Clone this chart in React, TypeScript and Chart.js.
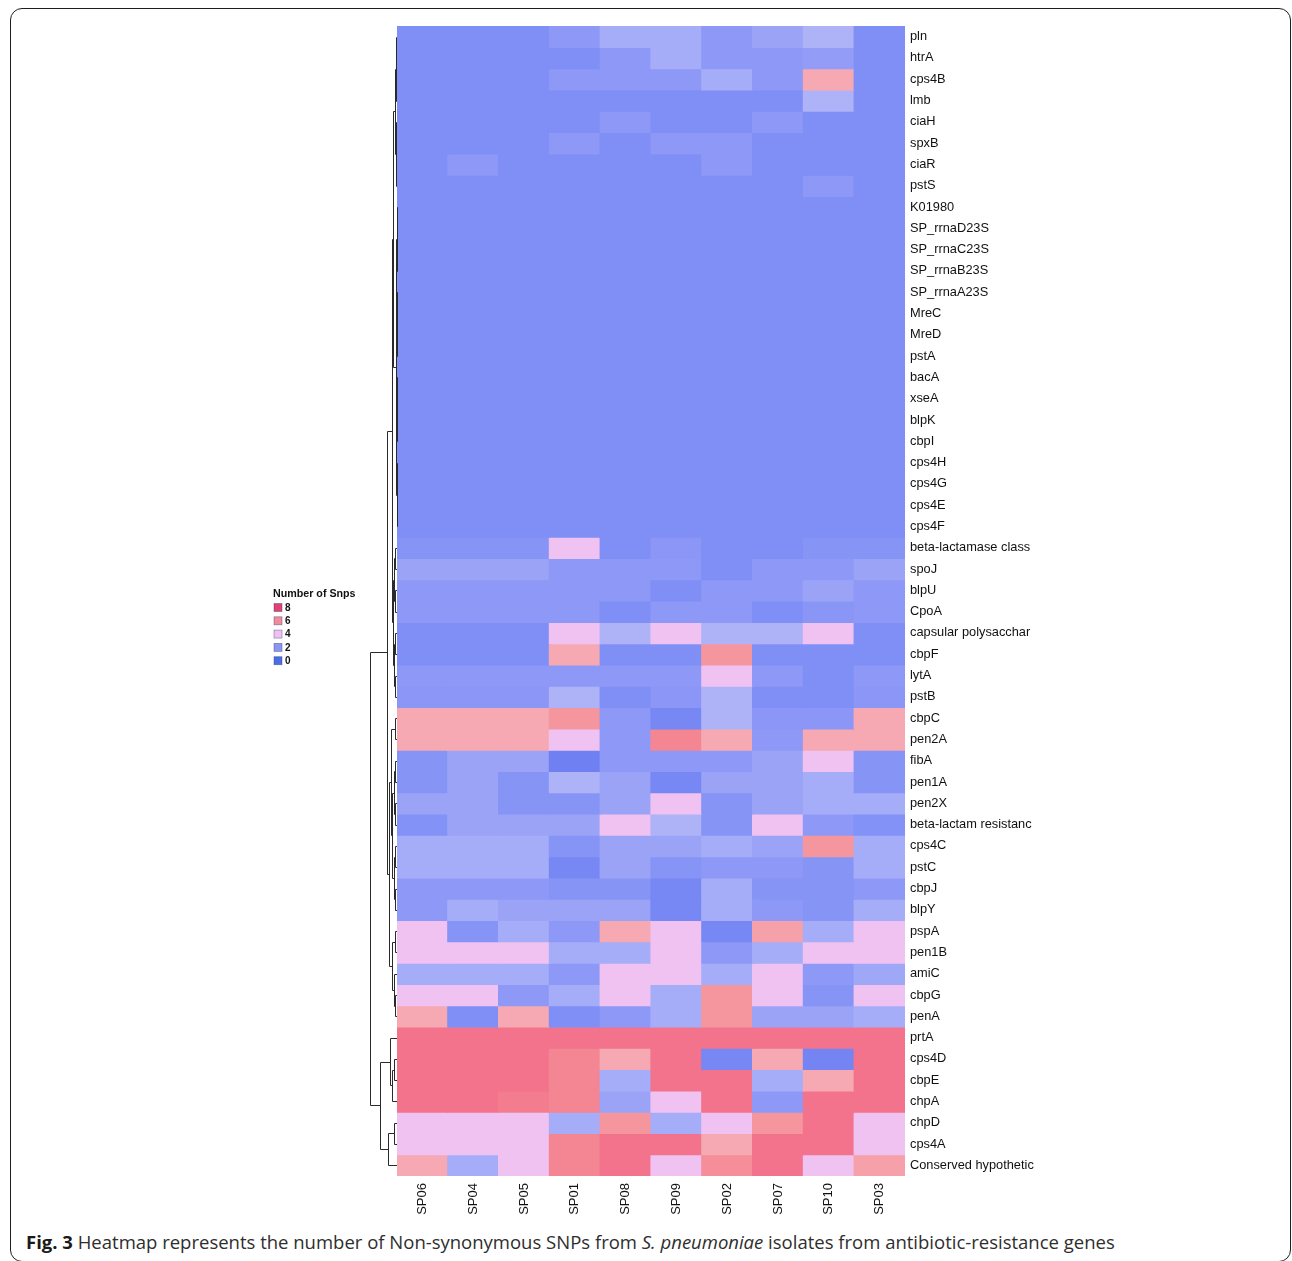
import React, { useEffect, useRef } from "react";
import { Chart, registerables } from "chart.js";

Chart.register(...registerables);

const samples = ["SP06", "SP04", "SP05", "SP01", "SP08", "SP09", "SP02", "SP07", "SP10", "SP03"];

const genes = [
  "pln", "htrA", "cps4B", "lmb", "ciaH", "spxB", "ciaR", "pstS", "K01980",
  "SP_rrnaD23S", "SP_rrnaC23S", "SP_rrnaB23S", "SP_rrnaA23S", "MreC", "MreD",
  "pstA", "bacA", "xseA", "blpK", "cbpI", "cps4H", "cps4G", "cps4E", "cps4F",
  "beta-lactamase class", "spoJ", "blpU", "CpoA", "capsular polysacchar", "cbpF",
  "lytA", "pstB", "cbpC", "pen2A", "fibA", "pen1A", "pen2X", "beta-lactam resistanc",
  "cps4C", "pstC", "cbpJ", "blpY", "pspA", "pen1B", "amiC", "cbpG", "penA",
  "prtA", "cps4D", "cbpE", "chpA", "chpD", "cps4A", "Conserved hypothetic",
];

// colour level read per cell (columns follow `samples`)
const snpCounts: number[][] = [
  [1, 1, 1, 2, 3, 3, 2, 2.5, 3.5, 1], // pln
  [1, 1, 1, 1, 2, 3, 2, 2, 2.2, 1], // htrA
  [1, 1, 1, 2, 2, 2, 3, 2, 5, 1], // cps4B
  [1, 1, 1, 1, 1, 1, 1, 1, 3.5, 1], // lmb
  [1, 1, 1, 1, 2, 1, 1, 2, 1, 1], // ciaH
  [1, 1, 1, 2, 1, 2, 2, 1, 1, 1], // spxB
  [1, 2, 1, 1, 1, 1, 2, 1, 1, 1], // ciaR
  [1, 1, 1, 1, 1, 1, 1, 1, 2, 1], // pstS
  [1, 1, 1, 1, 1, 1, 1, 1, 1, 1], // K01980
  [1, 1, 1, 1, 1, 1, 1, 1, 1, 1], // SP_rrnaD23S
  [1, 1, 1, 1, 1, 1, 1, 1, 1, 1], // SP_rrnaC23S
  [1, 1, 1, 1, 1, 1, 1, 1, 1, 1], // SP_rrnaB23S
  [1, 1, 1, 1, 1, 1, 1, 1, 1, 1], // SP_rrnaA23S
  [1, 1, 1, 1, 1, 1, 1, 1, 1, 1], // MreC
  [1, 1, 1, 1, 1, 1, 1, 1, 1, 1], // MreD
  [1, 1, 1, 1, 1, 1, 1, 1, 1, 1], // pstA
  [1, 1, 1, 1, 1, 1, 1, 1, 1, 1], // bacA
  [1, 1, 1, 1, 1, 1, 1, 1, 1, 1], // xseA
  [1, 1, 1, 1, 1, 1, 1, 1, 1, 1], // blpK
  [1, 1, 1, 1, 1, 1, 1, 1, 1, 1], // cbpI
  [1, 1, 1, 1, 1, 1, 1, 1, 1, 1], // cps4H
  [1, 1, 1, 1, 1, 1, 1, 1, 1, 1], // cps4G
  [1, 1, 1, 1, 1, 1, 1, 1, 1, 1], // cps4E
  [1, 1, 1, 1, 1, 1, 1, 1, 1, 1], // cps4F
  [1.5, 1.5, 1.5, 4, 1, 1.8, 1, 1, 1.5, 1.5], // beta-lactamase class
  [2.5, 2.5, 2.5, 2, 2, 2, 1, 2, 2, 2.5], // spoJ
  [2, 2, 2, 2, 2, 1, 2, 2, 2.5, 2], // blpU
  [2, 2, 2, 2, 1, 2, 2, 1, 1.7, 2], // CpoA
  [1, 1, 1, 4, 3.5, 4, 3.5, 3.5, 4, 1], // capsular polysacchar
  [1, 1, 1, 5, 1, 1, 6, 1, 1, 1], // cbpF
  [2, 2, 2, 2, 2, 2, 4, 2, 1, 2], // lytA
  [1.8, 1.8, 1.8, 3.5, 1, 1.8, 3.5, 1, 1, 1.8], // pstB
  [5, 5, 5, 6, 2, 0.5, 3.5, 1.8, 1.8, 5], // cbpC
  [5, 5, 5, 4, 2, 7, 5, 2, 5, 5], // pen2A
  [1.5, 2.5, 2.5, 0, 2, 2, 2, 2.5, 4, 1.5], // fibA
  [1.5, 2.5, 1.5, 3.5, 2.5, 0.5, 2.5, 2.5, 3, 1.5], // pen1A
  [2.5, 2.5, 1.5, 1.5, 2.5, 4, 1.5, 2.5, 3, 3], // pen2X
  [1.3, 2.5, 2.5, 2.5, 4, 3.5, 1.5, 4, 2, 1.3], // beta-lactam resistanc
  [3, 3, 3, 1.5, 2.5, 2.5, 3, 2.5, 6, 3], // cps4C
  [3, 3, 3, 0.5, 2.5, 1.5, 2, 2, 1.5, 3], // pstC
  [2, 2, 2, 1.5, 1.5, 0.5, 3, 1.5, 1.5, 2], // cbpJ
  [2, 3, 2.5, 2.5, 2.5, 0.5, 3, 2, 1.5, 3], // blpY
  [4, 1.5, 3, 2, 5, 4, 0.5, 5.5, 3, 4], // pspA
  [4, 4, 4, 3, 3, 4, 2, 3, 4, 4], // pen1B
  [3, 3, 3, 2, 4, 4, 3, 4, 2, 2.7], // amiC
  [4, 4, 2, 3, 4, 3, 6, 4, 1.5, 4], // cbpG
  [5, 1, 5, 1, 2, 3, 6, 2.5, 2.5, 3], // penA
  [8, 8, 8, 8, 8, 8, 8, 8, 8, 8], // prtA
  [8, 8, 8, 7, 5, 8, 0.5, 5, 0.3, 8], // cps4D
  [8, 8, 8, 7, 3, 8, 8, 3, 5, 8], // cbpE
  [8, 8, 7.5, 7, 2.5, 4, 8, 2, 8, 8], // chpA
  [4, 4, 4, 3, 6, 3, 4, 6, 8, 4], // chpD
  [4, 4, 4, 7, 8, 8, 5, 8, 8, 4], // cps4A
  [5, 3, 4, 7, 8, 4, 6.5, 8, 4, 5.5], // Conserved hypothetic
];

const legendTitle = "Number of Snps";
const legendLevels = ["8", "6", "4", "2", "0"];
const legendColors = ["#e2426f", "#f08d99", "#f0c2f0", "#8c96ef", "#4a6fe0"];

const colorStops: [number, string][] = [
  [0, "#6f80f2"],
  [1, "#7f8ff5"],
  [1.5, "#8694f6"],
  [2, "#8e98f6"],
  [2.5, "#9ba3f7"],
  [3, "#a6adf8"],
  [3.5, "#aeb3f8"],
  [4, "#f0c2f1"],
  [5, "#f6a9b2"],
  [6, "#f5969f"],
  [7, "#f48592"],
  [8, "#f2738b"],
];

type TreeNode = number | { h: number; c: [TreeNode, TreeNode] };
const N = (h: number, a: TreeNode, b: TreeNode): TreeNode => ({ h, c: [a, b] });

const dendrogram: TreeNode = N(
  27,
  N(
    10,
    N(
      5,
      N(
        4,
        N(2.5, N(1.5, N(1, 0, 1), N(1, 2, 3)), N(1.5, N(1, 4, 5), N(1, 6, 7))),
        N(
          1,
          N(0.8, N(0.5, N(0.3, 8, 9), N(0.3, 10, 11)), N(0.5, N(0.3, 12, 13), N(0.3, 14, 15))),
          N(0.8, N(0.5, N(0.3, 16, 17), N(0.3, 18, 19)), N(0.5, N(0.3, 20, 21), N(0.3, 22, 23)))
        )
      ),
      N(4.5, N(3, N(2, 24, 25), N(2, 26, 27)), N(3.5, N(2.5, 28, 29), N(2, 30, 31)))
    ),
    N(
      8,
      N(6, N(2, 32, 33), N(5, N(3, N(2, 34, 35), N(2, 36, 37)), N(3, N(2, 38, 39), N(2, 40, 41)))),
      N(5, N(2.5, 42, 43), N(3, 44, N(2, 45, 46)))
    )
  ),
  N(17, N(7, 47, N(5, N(3, 48, 49), 50)), N(9, N(3, 51, 52), 53))
);

function hexToRgb(h: string) {
  const n = parseInt(h.slice(1), 16);
  return [(n >> 16) & 255, (n >> 8) & 255, n & 255];
}

function colorFor(v: number): string {
  if (v <= colorStops[0][0]) return colorStops[0][1];
  for (let i = 1; i < colorStops.length; i++) {
    const [v1, c1] = colorStops[i];
    const [v0, c0] = colorStops[i - 1];
    if (v <= v1) {
      const t = (v - v0) / (v1 - v0);
      const a = hexToRgb(c0);
      const b = hexToRgb(c1);
      const m = a.map((x, k) => Math.round(x + (b[k] - x) * t));
      return `rgb(${m[0]},${m[1]},${m[2]})`;
    }
  }
  return colorStops[colorStops.length - 1][1];
}

const dendroPlugin = {
  id: "dendro",
  afterDraw(chart: any) {
    const { ctx, chartArea, scales } = chart;
    const y = scales.y;
    const left = chartArea.left;
    ctx.save();
    ctx.strokeStyle = "#2a2a2a";
    ctx.lineWidth = 1;
    const px = (v: number) => Math.round(v) + 0.5;
    const walk = (n: TreeNode): { x: number; y: number } => {
      if (typeof n === "number") return { x: left, y: y.getPixelForValue(n + 0.5) };
      const a = walk(n.c[0]);
      const b = walk(n.c[1]);
      const x = left - n.h;
      ctx.beginPath();
      ctx.moveTo(a.x, px(a.y));
      ctx.lineTo(px(x), px(a.y));
      ctx.lineTo(px(x), px(b.y));
      ctx.lineTo(b.x, px(b.y));
      ctx.stroke();
      return { x: px(x), y: (a.y + b.y) / 2 };
    };
    walk(dendrogram);
    ctx.restore();
  },
};

const legendPlugin = {
  id: "snpLegend",
  afterDraw(chart: any) {
    const { ctx } = chart;
    ctx.save();
    ctx.fillStyle = "#111";
    ctx.textBaseline = "middle";
    ctx.font = 'bold 10.7px "Liberation Sans", Arial, sans-serif';
    ctx.fillText(legendTitle, 273, 594);
    ctx.font = 'bold 10px "Liberation Sans", Arial, sans-serif';
    legendLevels.forEach((lab, i) => {
      const yy = 607.5 + i * 13.3;
      ctx.fillStyle = legendColors[i];
      ctx.fillRect(274, yy - 4, 8, 8);
      ctx.strokeStyle = "rgba(40,40,120,0.45)";
      ctx.lineWidth = 0.8;
      ctx.strokeRect(274, yy - 4, 8, 8);
      ctx.fillStyle = "#111";
      ctx.fillText(lab, 285, yy + 0.5);
    });
    ctx.restore();
  },
};

function Heatmap() {
  const ref = useRef<HTMLCanvasElement | null>(null);
  useEffect(() => {
    if (!ref.current) return;
    const chart = new Chart(ref.current, {
      type: "bar",
      data: {
        labels: samples,
        datasets: genes.map((g, r) => ({
          label: g,
          data: samples.map(() => [r, r + 1]) as any,
          backgroundColor: snpCounts[r].map(colorFor),
          borderWidth: 0,
          inflateAmount: 0.6,
          barPercentage: 1,
          categoryPercentage: 1,
        })),
      },
      options: {
        animation: false,
        responsive: false,
        maintainAspectRatio: false,
        events: [],
        layout: { padding: { left: 397, top: 26, right: 0, bottom: 0 } },
        plugins: { legend: { display: false }, tooltip: { enabled: false } },
        scales: {
          x: {
            stacked: true,
            grid: { display: false, drawTicks: false },
            border: { display: false },
            ticks: {
              minRotation: 90,
              maxRotation: 90,
              autoSkip: false,
              padding: 7,
              color: "#111",
              font: { family: '"Liberation Sans", Arial, sans-serif', size: 13 },
            },
            afterFit: (s: any) => {
              s.height = 49;
            },
          },
          y: {
            position: "right",
            reverse: true,
            min: 0,
            max: genes.length,
            grid: { display: false, drawTicks: false },
            border: { display: false },
            afterBuildTicks: (s: any) => {
              s.ticks = genes.map((_, i) => ({ value: i + 0.5 }));
            },
            ticks: {
              autoSkip: false,
              padding: 5,
              color: "#111",
              font: { family: '"Liberation Sans", Arial, sans-serif', size: 12.8 },
              callback: (v: any) => genes[Math.floor(Number(v))],
            },
            afterFit: (s: any) => {
              s.width = 387;
            },
          },
        },
      },
      plugins: [dendroPlugin, legendPlugin],
    } as any);
    return () => chart.destroy();
  }, []);
  return <canvas ref={ref} width={1292} height={1225} style={{ position: "absolute", left: 0, top: 0 }} />;
}

export default function App() {
  return (
    <div style={{ position: "absolute", left: 0, top: 0, width: 1292, height: 1261, overflow: "hidden", background: "#fff" }}>
      <div
        style={{
          position: "absolute",
          left: 10,
          top: 8,
          width: 1279,
          height: 1252,
          border: "1.5px solid #1e1e1e",
          borderRadius: 12,
        }}
      />
      <Heatmap />
      <div
        style={{
          position: "absolute",
          left: 26,
          top: 1229,
          lineHeight: "26px",
          fontFamily: '"Open Sans", sans-serif',
          fontSize: 18.5,
          color: "#2e2e2e",
          whiteSpace: "nowrap",
        }}
      >
        <b style={{ color: "#1a1a1a" }}>Fig. 3</b> Heatmap represents the number of Non-synonymous SNPs from{" "}
        <i>S. pneumoniae</i> isolates from antibiotic-resistance genes
      </div>
    </div>
  );
}
